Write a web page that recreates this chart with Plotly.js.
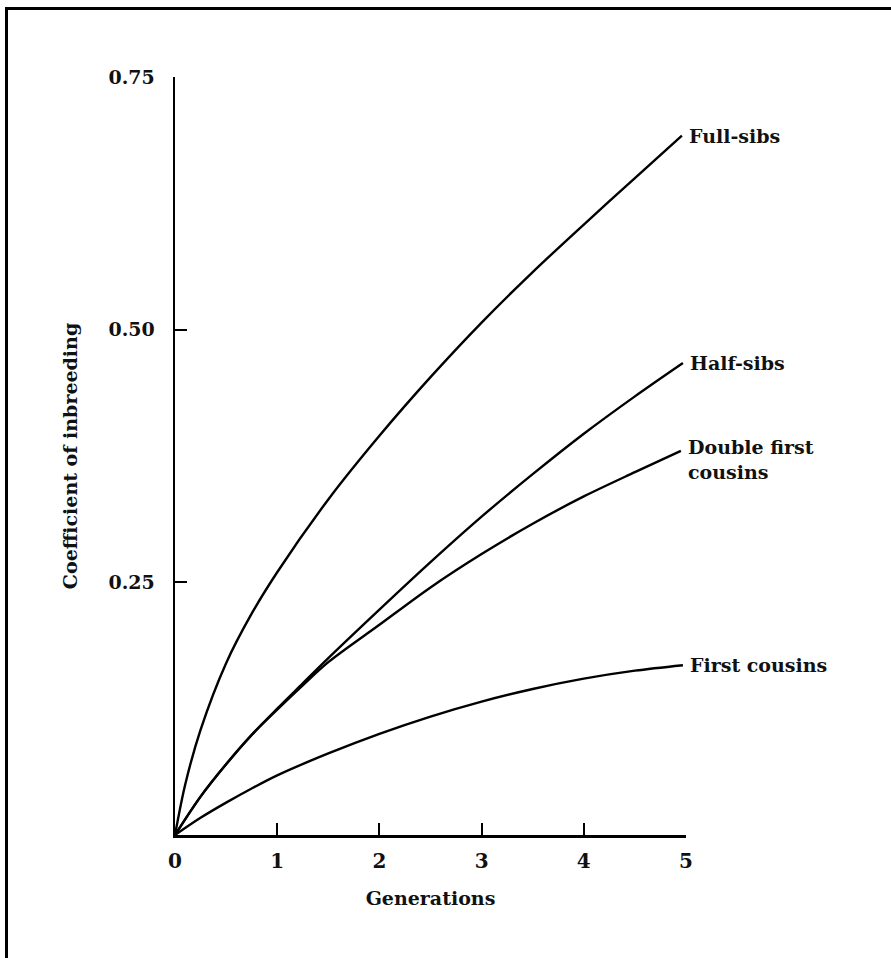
<!DOCTYPE html>
<html>
<head>
<meta charset="utf-8">
<script src="https://cdn.plot.ly/plotly-3.0.1.min.js"></script>
<style>html,body{margin:0;padding:0;background:#fff;}#chart{width:891px;height:958px;}</style>
</head>
<body>
<div id="chart"></div>
<script>
// Data
const seriesNames = ["Full-sibs", "Half-sibs", "Double first<br>cousins", "First cousins"];

const fullSibsX = [0, 0.1, 0.25, 0.5, 0.75, 1, 1.5, 2, 2.5, 3, 3.5, 4, 4.5, 4.96];
const fullSibsY = [0, 0.05, 0.104, 0.17, 0.219, 0.26, 0.332, 0.395, 0.453, 0.507, 0.557, 0.604, 0.65, 0.692];

const halfSibsX = [0, 0.25, 0.5, 0.75, 1, 1.25, 1.5, 2, 2.5, 3, 3.5, 4, 4.5, 4.97];
const halfSibsY = [0, 0.038, 0.07, 0.099, 0.125, 0.15, 0.175, 0.223, 0.27, 0.315, 0.357, 0.397, 0.434, 0.467];

const doubleX = [0, 0.25, 0.5, 0.75, 1, 1.25, 1.5, 2, 2.5, 3, 3.5, 4, 4.5, 4.95];
const doubleY = [0, 0.038, 0.07, 0.099, 0.124, 0.148, 0.171, 0.208, 0.245, 0.278, 0.308, 0.335, 0.359, 0.38];

const firstCousinsX = [0, 0.25, 0.5, 0.75, 1, 1.5, 2, 2.5, 3, 3.5, 4, 4.5, 4.97];
const firstCousinsY = [0, 0.017, 0.032, 0.046, 0.059, 0.0807, 0.1001, 0.1172, 0.132, 0.1445, 0.1547, 0.1626, 0.168];

const xTickVals = [0, 1, 2, 3, 4, 5];
const xTickText = ["0", "1", "2", "3", "4", "5"];
const yTickVals = [0.25, 0.5, 0.75];
const yTickText = ["0.25", "0.50", "0.75"];

const xs = [fullSibsX, halfSibsX, doubleX, firstCousinsX];
const ys = [fullSibsY, halfSibsY, doubleY, firstCousinsY];

const FONT = "DejaVu Serif, Liberation Serif, serif";
const TXT = "#111";

const traces = xs.map((x, i) => ({
  x: x, y: ys[i], type: "scatter", mode: "lines",
  line: {color: "#000", width: 2.4, shape: "spline", smoothing: 0.9},
  name: seriesNames[i], hoverinfo: "skip", showlegend: false
}));

const labelShift = [0, 0, 17, 0];
const labelAnchor = ["middle", "middle", "top", "middle"];
const annotations = xs.map((x, i) => ({
  x: x[x.length - 1], y: ys[i][ys[i].length - 1],
  xref: "x", yref: "y", text: "<b>" + seriesNames[i].replace("<br>", "</b><br><b>") + "</b>", showarrow: false,
  xanchor: "left", yanchor: labelAnchor[i], align: "left",
  xshift: 5, yshift: labelShift[i],
  font: {family: FONT, size: 19, color: TXT}
}));

// frame lines (left and top), in paper coordinates
const L = 175, R = 891 - 205, T = 77, B = 958 - 123;
const px = v => (v - L) / (R - L);
const py = v => (B - v) / (B - T);
const shapes = [
  {type: "line", xref: "paper", yref: "paper", x0: px(6.5), x1: px(6.5), y0: py(7), y1: py(960), line: {color: "#000", width: 3}},
  {type: "line", xref: "paper", yref: "paper", x0: px(5), x1: px(893), y0: py(8.5), y1: py(8.5), line: {color: "#000", width: 3}}
];

const layout = {
  width: 891, height: 958,
  margin: {l: L, r: 205, t: T, b: 123},
  paper_bgcolor: "#fff", plot_bgcolor: "#fff",
  showlegend: false,
  font: {family: FONT, color: TXT},
  xaxis: {
    range: [0, 5], showgrid: false, zeroline: false,
    showline: true, linecolor: "#000", linewidth: 2.5,
    ticks: "inside", ticklen: 12, tickwidth: 2, tickcolor: "#000",
    tickvals: xTickVals, ticktext: xTickText.map(t => "<b>" + t + "</b>"),
    tickfont: {family: FONT, size: 20, color: TXT},
    ticklabelstandoff: 6,
    title: {text: "<b>Generations</b>", font: {family: FONT, size: 19, color: TXT}, standoff: 20},
    fixedrange: true
  },
  yaxis: {
    range: [0, 0.75], showgrid: false, zeroline: false,
    showline: true, linecolor: "#000", linewidth: 2.5,
    ticks: "inside", ticklen: 12, tickwidth: 2, tickcolor: "#000",
    tickvals: yTickVals, ticktext: yTickText.map(t => "<b>" + t + "</b>"),
    tickfont: {family: FONT, size: 19, color: TXT},
    ticklabelstandoff: 14,
    title: {text: "<b>Coefficient of inbreeding</b>", font: {family: FONT, size: 19, color: TXT}, standoff: 26},
    fixedrange: true
  },
  annotations: annotations,
  shapes: shapes
};

Plotly.newPlot("chart", traces, layout, {displayModeBar: false, staticPlot: true});
</script>
</body>
</html>
